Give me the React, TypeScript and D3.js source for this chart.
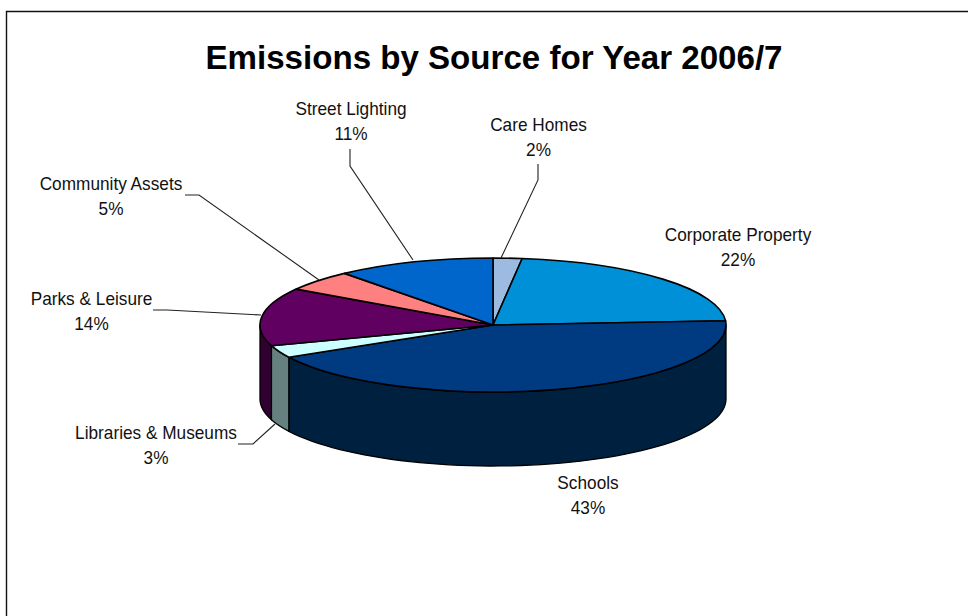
import React from "react";
import * as d3 from "d3";

// Share of emissions per source, in percent, clockwise from twelve o'clock
const sources = ["Care Homes", "Corporate Property", "Schools", "Libraries & Museums", "Parks & Leisure", "Community Assets", "Street Lighting"];
const shares = [2, 22, 43, 3, 14, 5, 11];
const topColours = ["#9DBBE0", "#0090D8", "#003A80", "#CCFFFF", "#600060", "#FF8080", "#0066CC"];
const sideColours = ["#4E5D70", "#00486C", "#002040", "#668080", "#300030", "#804040", "#003366"];
const chartTitle = "Emissions by Source for Year 2006/7";

const WIDTH = 968;
const HEIGHT = 616;
const CX = 493;
const CY = 325;
const RX = 233;
const RY = 67;
const DEPTH = 74;

// Label centres (x, first baseline) and their leader polylines, in source order
const labelAnchors: [number, number][] = [
  [538.5, 131], [738, 241], [588, 489], [156, 439], [91.5, 305], [111, 190], [351, 115],
];
const leaders: [number, number][][] = [
  [[501, 258], [538, 180], [538, 164]],
  [],
  [],
  [[275, 424], [253, 444], [238, 444]],
  [[261, 315], [167, 310], [153, 310]],
  [[319, 280], [199, 195], [185, 195]],
  [[413, 260], [350, 166], [350, 149]],
];

const px = (a: number) => CX + RX * Math.sin(a);
const py = (a: number) => CY - RY * Math.cos(a);

export default function App() {
  const slices = d3.pie<number>().sort(null)(shares);
  const arc = d3.arc<d3.PieArcDatum<number>>().innerRadius(0).outerRadius(RX);
  const outline = d3.line<[number, number]>();

  // The rim only shows on the near half of the ellipse
  const rimPath = (start: number, end: number) => {
    const from = Math.max(start, Math.PI / 2);
    const to = Math.min(end, (3 * Math.PI) / 2);
    if (to <= from) return null;
    const steps = d3.range(0, 61).map((i) => from + ((to - from) * i) / 60);
    const upper = steps.map((a) => [px(a), py(a)] as [number, number]);
    const lower = steps.slice().reverse().map((a) => [px(a), py(a) + DEPTH] as [number, number]);
    return outline([...upper, ...lower]) + "Z";
  };

  const font = "'Liberation Sans', Arial, sans-serif";

  return (
    <svg
      width={WIDTH}
      height={HEIGHT}
      viewBox={`0 0 ${WIDTH} ${HEIGHT}`}
      style={{ position: "absolute", left: 0, top: 0, background: "#fff" }}
    >
      <path d={`M6.5,${HEIGHT}V11.5H${WIDTH}`} fill="none" stroke="#111" strokeWidth={1.4} />

      <text
        x={494}
        y={69}
        textAnchor="middle"
        fontFamily={font}
        fontWeight="bold"
        fontSize={34}
        textLength={577}
        lengthAdjust="spacingAndGlyphs"
        fill="#000"
      >
        {chartTitle}
      </text>

      <g>
        {slices.map((s, i) => {
          const d = rimPath(s.startAngle, s.endAngle);
          return d ? <path key={i} d={d} fill={sideColours[i]} stroke="#000" strokeWidth={1.3} /> : null;
        })}
      </g>

      <g transform={`translate(${CX},${CY}) scale(1,${RY / RX})`}>
        {slices.map((s, i) => (
          <path
            key={i}
            d={arc(s) ?? ""}
            fill={topColours[i]}
            stroke="#000"
            strokeWidth={1.6}
            strokeLinejoin="round"
            vectorEffect="non-scaling-stroke"
          />
        ))}
      </g>

      <g fill="none" stroke="#222" strokeWidth={1.1}>
        {leaders.map((pts, i) => (pts.length ? <path key={i} d={outline(pts) ?? ""} /> : null))}
      </g>

      <g fontFamily={font} fontSize={17.5} fill="#111" textAnchor="middle">
        {sources.map((name, i) => (
          <g key={name} transform={`translate(${labelAnchors[i][0]},${labelAnchors[i][1]}) scale(0.985,1)`}>
            <text>{name}</text>
            <text y={25.5}>{shares[i]}%</text>
          </g>
        ))}
      </g>
    </svg>
  );
}
